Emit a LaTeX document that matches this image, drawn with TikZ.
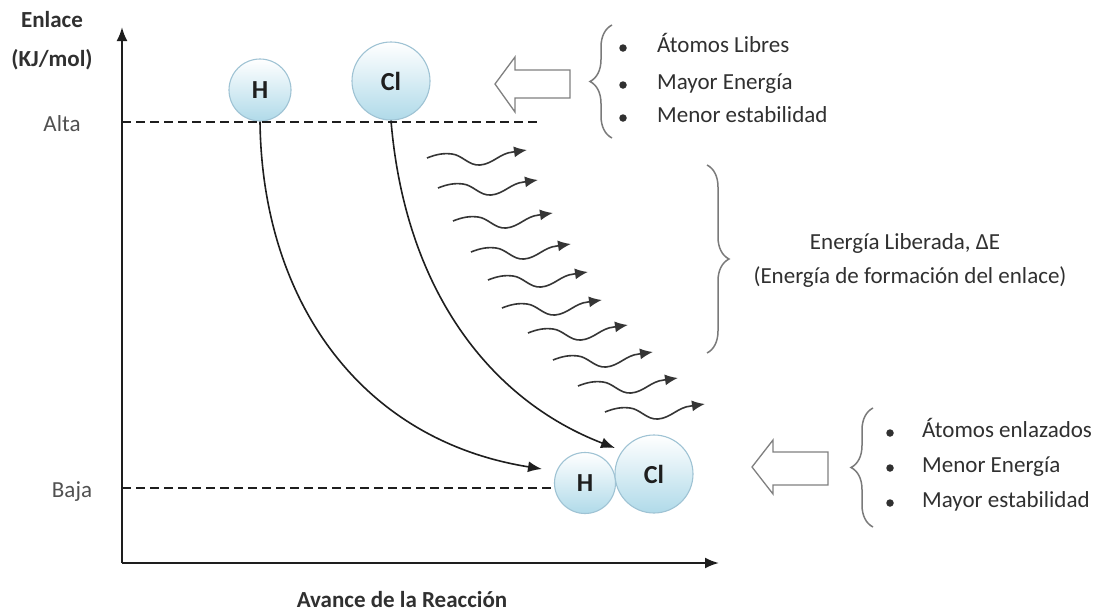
\documentclass[tikz,border=0pt]{standalone}
\usepackage{fontspec}
\setmainfont{Carlito}
\usetikzlibrary{arrows.meta,decorations.pathreplacing,calc}
\definecolor{txt}{HTML}{303030}
\definecolor{lbl}{HTML}{505050}
\definecolor{ball}{HTML}{B0DAE9}
\definecolor{ballrim}{HTML}{9FC3D4}
\definecolor{bracec}{HTML}{7A7A7A}
\definecolor{linec}{HTML}{1E1E1E}
\begin{document}
\begin{tikzpicture}[x=1pt,y=-1pt,
  atom/.style={circle, draw=ballrim, line width=1.1pt, top color=white, bottom color=ball, inner sep=0pt, font=\fontsize{26}{30}\selectfont\bfseries, text=linec},
  axis/.style={line width=2.2pt, draw=linec, -{Latex[length=14pt,width=11pt]}},
  level/.style={line width=2pt, draw=linec, dash pattern=on 9pt off 5pt},
  bond/.style={line width=1.6pt, draw=linec, -{Latex[length=14pt,width=11pt]}},
  wave/.style={line width=1.6pt, draw=linec!90, -{Latex[length=13pt,width=11pt]}},
  hollow/.style={draw=gray, line width=1.3pt, fill=white, line join=miter},
  curly/.style={draw=bracec, line width=1.5pt, decorate, decoration={brace, amplitude=22pt}},
  body/.style={font=\fontsize{23}{27}\selectfont, text=txt, inner sep=0pt},
  axlbl/.style={font=\fontsize{23}{27}\selectfont\bfseries, text=txt, inner sep=0pt, anchor=base},
  bulletdot/.style={circle, fill=txt, inner sep=0pt, minimum size=7.5pt},
]
\useasboundingbox[fill=white] (0,0) rectangle (1104,614);

% axes
\coordinate (O) at (122,563);
\coordinate (Ytop) at (122,27);
\coordinate (Xend) at (719,563);
\draw[axis] (O) -- (Ytop);
\draw[axis] (O) -- (Xend);

% atoms
\node[atom, minimum size=62pt] (Ht) at (260,90) {H};
\node[atom, minimum size=78pt] (Clt) at (391,81) {Cl};
\node[atom, minimum size=61pt] (Hb) at (585,483) {H};
\node[atom, minimum size=78pt] (Clb) at (654,474) {Cl};

% energy levels
\coordinate (A0) at (122,122); \coordinate (A1) at (540,122);
\coordinate (B0) at (122,488); \coordinate (B1) at (553,488);
\draw[level] (A0) -- (A1);
\draw[level] (B0) -- (B1);

% bond formation curves
\coordinate (e1) at (542,469);
\coordinate (e2) at (615,448);
\draw[bond] (Ht.south) .. controls (262,300) and (360,440) .. (e1);
\draw[bond] (Clt.south) .. controls (405,290) and (490,400) .. (e2);

% released energy
\foreach \x/\y in {427/158, 438/188, 453/221, 471/252, 488/280, 502/308, 528/333, 553/360, 578/386, 605/412}
  \draw[wave, shift={(\x,\y)}] (0,0) .. controls (10,-4) and (17,-5) .. (25,-4) .. controls (35,-3) and (42,8) .. (53,7) .. controls (66,6) and (73,-5) .. (86,-6) -- (100,-8);

% hollow arrows
\draw[hollow] (495,84) -- (515,57) -- (515,70) -- (570,70) -- (570,98) -- (515,98) -- (515,112) -- cycle;
\draw[hollow] (752,467) -- (773,440) -- (773,452) -- (828,452) -- (828,485) -- (773,485) -- (773,494) -- cycle;

% braces
\draw[curly] (612,138) -- (612,25);
\draw[curly] (707,165) -- (707,353);
\draw[curly] (873,527) -- (873,408);

% lists
\foreach \t/\y [count=\i] in {Átomos Libres/48, Mayor Energía/85, Menor estabilidad/118} {
  \node[bulletdot] (tb\i) at (623,\y) {};
  \node[body, anchor=mid west] (tt\i) at (657,\y+2) {\t};
}
\foreach \t/\y [count=\i] in {Átomos enlazados/433, Menor Energía/468, Mayor estabilidad/503} {
  \node[bulletdot] (bb\i) at (890,\y) {};
  \node[body, anchor=mid west] (bt\i) at (922,\y+2) {\t};
}

\node[body, anchor=base] (dE) at (905,249) {Energía Liberada, ΔE};
\node[body, anchor=base] (dE2) at (910,283) {(Energía de formación del enlace)};

% axis labels
\node[axlbl] (yl1) at (52,27) {Enlace};
\node[axlbl] (yl2) at (52,66) {(KJ/mol)};
\node[axlbl] (xl) at (402,607) {Avance de la Reacción};
\node[body, anchor=base, text=lbl] (alta) at (62,131) {Alta};
\node[body, anchor=base, text=lbl] (baja) at (72,497) {Baja};
\end{tikzpicture}
\end{document}
